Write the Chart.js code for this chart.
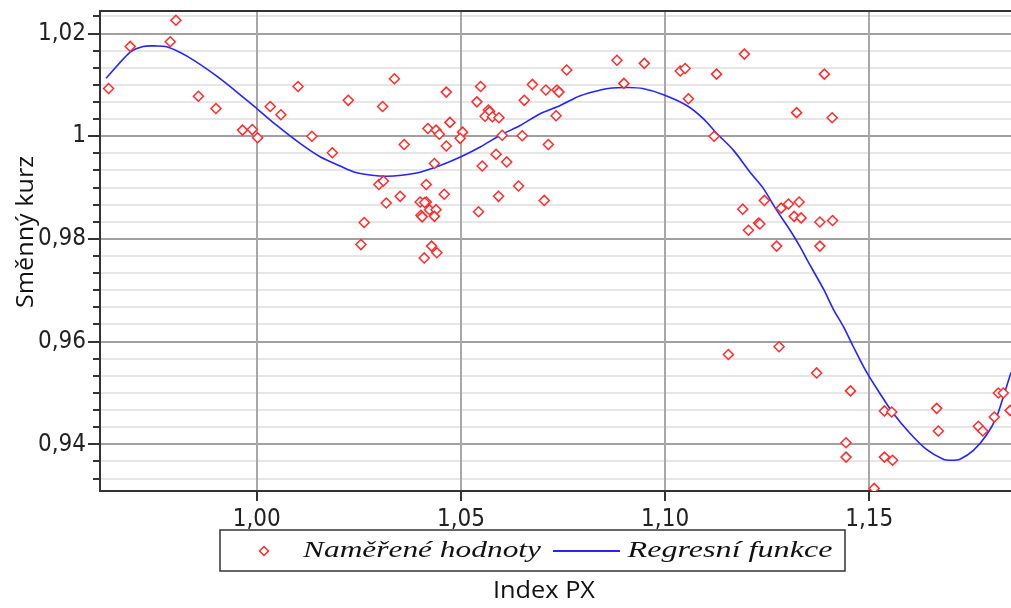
<!DOCTYPE html>
<html>
<head>
<meta charset="utf-8">
<script src="https://cdn.jsdelivr.net/npm/chart.js@4.4.1/dist/chart.umd.min.js"></script>
<style>
  html, body { margin: 0; padding: 0; background: #fff; }
  canvas { display: block; }
</style>
</head>
<body>
<canvas id="rateChart" width="1011" height="608"></canvas>
<script>
// Values
const measuredX = [
  0.9637, 0.9690, 0.9788, 0.9802, 0.9857, 0.9900, 0.9965, 0.9989, 1.0002, 1.0033,
  1.0059, 1.0101, 1.0135, 1.0185, 1.0224, 1.0255, 1.0263, 1.0308, 1.0337, 1.0299,
  1.0310, 1.0317, 1.0351, 1.0361, 1.0400, 1.0415, 1.0411, 1.0402, 1.0405, 1.0423,
  1.0439, 1.0435, 1.0415, 1.0459, 1.0435, 1.0419, 1.0439, 1.0447, 1.0473, 1.0464,
  1.0464, 1.0504, 1.0498, 1.0428, 1.0441, 1.0410, 1.0552, 1.0543, 1.0548, 1.0539,
  1.0567, 1.0570, 1.0559, 1.0577, 1.0593, 1.0601, 1.0650, 1.0586, 1.0612, 1.0641,
  1.0592, 1.0704, 1.0714, 1.0655, 1.0675, 1.0708, 1.0735, 1.0740, 1.0733, 1.0759,
  1.0882, 1.0949, 1.0899, 1.1037, 1.1049, 1.1057, 1.1126, 1.1194, 1.1120, 1.1322,
  1.1390, 1.1409, 1.1243, 1.1190, 1.1284, 1.1302, 1.1328, 1.1316, 1.1333, 1.1379,
  1.1410, 1.1229, 1.1232, 1.1204, 1.1273, 1.1379, 1.1155, 1.1279, 1.1371, 1.1454,
  1.1537, 1.1555, 1.1665, 1.1669, 1.1767, 1.1778, 1.1806, 1.1816, 1.1828, 1.1845,
  1.1443, 1.1443, 1.1537, 1.1557, 1.1512
];
const measuredY = [
  1.0093, 1.0175, 1.0184, 1.0226, 1.0078, 1.0054, 1.0012, 1.0013, 0.9997, 1.0058,
  1.0042, 1.0097, 1.0000, 0.9968, 1.0070, 0.9789, 0.9832, 1.0058, 1.0112, 0.9906,
  0.9913, 0.9870, 0.9883, 0.9984, 0.9872, 0.9872, 0.9871, 0.9846, 0.9843, 0.9857,
  0.9857, 0.9844, 0.9906, 0.9887, 0.9947, 1.0015, 1.0012, 1.0004, 1.0027, 1.0086,
  0.9981, 1.0008, 0.9996, 0.9786, 0.9773, 0.9763, 0.9942, 0.9853, 1.0097, 1.0067,
  1.0051, 1.0048, 1.0039, 1.0038, 1.0036, 1.0002, 1.0001, 0.9965, 0.9950, 0.9903,
  0.9883, 0.9875, 0.9984, 1.0070, 1.0101, 1.0090, 1.0090, 1.0086, 1.0040, 1.0129,
  1.0148, 1.0142, 1.0103, 1.0127, 1.0132, 1.0073, 1.0121, 1.0160, 1.0000, 1.0046,
  1.0121, 1.0036, 0.9875, 0.9858, 0.9860, 0.9868, 0.9872, 0.9844, 0.9841, 0.9833,
  0.9836, 0.9831, 0.9829, 0.9817, 0.9786, 0.9786, 0.9575, 0.9590, 0.9539, 0.9504,
  0.9465, 0.9463, 0.9470, 0.9426, 0.9435, 0.9426, 0.9453, 0.9500, 0.9500, 0.9466,
  0.9403, 0.9375, 0.9375, 0.9369, 0.9314
];

const regressionX = [
  0.9631, 0.9690, 0.9722, 0.9751, 0.9781, 0.9829, 0.9902, 0.9976, 1.0000, 1.0049,
  1.0106, 1.0155, 1.0204, 1.0240, 1.0282, 1.0317, 1.0355, 1.0400, 1.0449, 1.0500,
  1.0547, 1.0596, 1.0645, 1.0694, 1.0743, 1.0792, 1.0841, 1.0870, 1.0906, 1.0945,
  1.0996, 1.1053, 1.1094, 1.1126, 1.1167, 1.1208, 1.1240, 1.1273, 1.1306, 1.1331,
  1.1347, 1.1388, 1.1412, 1.1436, 1.1461, 1.1493, 1.1526, 1.1559, 1.1600, 1.1640,
  1.1681, 1.1702, 1.1722, 1.1755, 1.1787, 1.1812, 1.1828, 1.1847
];
const regressionY = [
  1.0113, 1.0164, 1.0175, 1.0176, 1.0174, 1.0156, 1.0117, 1.0070, 1.0054, 1.0021,
  0.9986, 0.9960, 0.9942, 0.9930, 0.9924, 0.9922, 0.9924, 0.9930, 0.9943, 0.9960,
  0.9979, 1.0002, 1.0021, 1.0044, 1.0060, 1.0079, 1.0090, 1.0094, 1.0095, 1.0093,
  1.0081, 1.0060, 1.0034, 1.0006, 0.9973, 0.9930, 0.9899, 0.9856, 0.9817, 0.9784,
  0.9760, 0.9702, 0.9663, 0.9630, 0.9590, 0.9541, 0.9499, 0.9460, 0.9421, 0.9390,
  0.9371, 0.9369, 0.9371, 0.9388, 0.9418, 0.9454, 0.9492, 0.9540
];

const seriesNames = ['Naměřené hodnoty', 'Regresní funkce'];
const xTitle = 'Index PX';
const yTitle = 'Směnný kurz';

const xTickValues = [1.00, 1.05, 1.10, 1.15];
const xTickLabels = ['1,00', '1,05', '1,10', '1,15'];
const yTickValues = [0.94, 0.96, 0.98, 1.00, 1.02];
const yTickLabels = ['0,94', '0,96', '0,98', '1', '1,02'];
const xRange = [0.9616, 1.1847];
const yRange = [0.9309, 1.0244];
const yMinorSteps = 6;

const RED = '#ff2b2b';
const BLUE = '#2424ff';
const AXIS = '#333333';
const TICK_FONT = "'Liberation Sans Narrow', 'DejaVu Sans Condensed', sans-serif";

// minor horizontal grid every 1/6 of a major step
const yStep = (yTickValues[1] - yTickValues[0]) / yMinorSteps;
const yGridValues = [];
for (let k = Math.ceil(yRange[0] / yStep - 1e-9); k * yStep <= yRange[1] + 1e-9; k++) {
  yGridValues.push(k * yStep);
}

function findIndex(list, v) {
  return list.findIndex(t => Math.abs(t - v) < 1e-6);
}

function drawDiamond(ctx, x, y, r) {
  ctx.beginPath();
  ctx.moveTo(x - r, y);
  ctx.lineTo(x, y - r);
  ctx.lineTo(x + r, y);
  ctx.lineTo(x, y + r);
  ctx.closePath();
  ctx.fillStyle = '#fff';
  ctx.fill();
  ctx.strokeStyle = RED;
  ctx.lineWidth = 1.5;
  ctx.stroke();
}

// draws text centred on (cx, cy), stretched to a given width
function fitText(ctx, text, cx, cy, width, font, angle) {
  ctx.save();
  ctx.font = font;
  const w = ctx.measureText(text).width;
  ctx.translate(cx, cy);
  if (angle) ctx.rotate(angle);
  ctx.scale(width / w, 1);
  ctx.textAlign = 'center';
  ctx.textBaseline = 'middle';
  ctx.fillStyle = '#111';
  ctx.fillText(text, 0, 0);
  ctx.restore();
}

// chart.js keeps a few px of padding around scales; drop it so the plot runs to the edge
function noPadding(s) {
  s.paddingLeft = 0;
  s.paddingRight = 0;
  s.paddingTop = 0;
  s.paddingBottom = 0;
}

const framePlugin = {
  id: 'frame',
  afterDraw(chart) {
    const { ctx, chartArea: a, scales } = chart;
    ctx.save();
    ctx.strokeStyle = AXIS;
    ctx.lineWidth = 2;

    // top border line
    ctx.beginPath();
    ctx.moveTo(a.left - 1, a.top);
    ctx.lineTo(a.right, a.top);
    ctx.stroke();

    // y tick marks: long for major, short for minor
    scales.y.ticks.forEach(t => {
      const y = Math.round(scales.y.getPixelForValue(t.value));
      const len = findIndex(yTickValues, t.value) >= 0 ? 12 : 7;
      ctx.beginPath();
      ctx.moveTo(a.left - len, y);
      ctx.lineTo(a.left, y);
      ctx.stroke();
    });

    // legend box
    ctx.lineWidth = 1.5;
    ctx.strokeStyle = AXIS;
    ctx.strokeRect(220, 530, 625, 41);
    drawDiamond(ctx, 264, 551, 4.5);
    ctx.strokeStyle = BLUE;
    ctx.lineWidth = 2;
    ctx.beginPath();
    ctx.moveTo(553, 551);
    ctx.lineTo(620, 551);
    ctx.stroke();
    ctx.restore();

    fitText(ctx, seriesNames[0], 422, 551, 238, "italic 24px 'Liberation Serif'");
    fitText(ctx, seriesNames[1], 730, 551, 205, "italic 24px 'Liberation Serif'");

    // axis titles
    fitText(ctx, xTitle, 544, 591, 102, "24px 'Open Sans'");
    fitText(ctx, yTitle, 26, 232, 152, "24px 'Open Sans'", -Math.PI / 2);
  }
};

new Chart(document.getElementById('rateChart'), {
  type: 'scatter',
  data: {
    datasets: [
      {
        label: seriesNames[0],
        data: measuredX.map((x, i) => ({ x: x, y: measuredY[i] })),
        pointStyle: 'rectRot',
        pointRadius: 5,
        pointHoverRadius: 5,
        borderColor: RED,
        backgroundColor: '#fff',
        borderWidth: 1.5,
        clip: 0
      },
      {
        label: seriesNames[1],
        data: regressionX.map((x, i) => ({ x: x, y: regressionY[i] })),
        showLine: true,
        pointRadius: 0,
        borderColor: BLUE,
        backgroundColor: BLUE,
        borderWidth: 1.6,
        tension: 0.3,
        clip: 0
      }
    ]
  },
  options: {
    responsive: false,
    animation: false,
    devicePixelRatio: 1,
    layout: { autoPadding: false, padding: { top: 11, left: 0, right: 0, bottom: 0 } },
    plugins: {
      legend: { display: false },
      tooltip: { enabled: false }
    },
    scales: {
      x: {
        type: 'linear',
        min: xRange[0],
        max: xRange[1],
        afterBuildTicks: s => { s.ticks = xTickValues.map(v => ({ value: v })); },
        afterFit: s => { s.height = 117; noPadding(s); },
        grid: {
          color: '#a8a8a8',
          lineWidth: 2,
          drawTicks: true,
          tickLength: 10,
          tickColor: AXIS,
          tickWidth: 2,
          z: -1
        },
        border: { color: AXIS, width: 2 },
        ticks: {
          padding: 4,
          color: '#222',
          autoSkip: false,
          maxRotation: 0,
          font: { family: TICK_FONT, size: 24 },
          callback: v => xTickLabels[findIndex(xTickValues, v)] || ''
        }
      },
      y: {
        type: 'linear',
        min: yRange[0],
        max: yRange[1],
        afterBuildTicks: s => { s.ticks = yGridValues.map(v => ({ value: v })); },
        afterFit: s => { s.width = 100; noPadding(s); },
        grid: {
          color: c => findIndex(yTickValues, c.tick.value) >= 0 ? '#a0a0a0' : '#e6e6e6',
          lineWidth: 2,
          drawTicks: false,
          z: -2
        },
        border: { color: AXIS, width: 2 },
        ticks: {
          padding: 14,
          color: '#222',
          autoSkip: false,
          font: { family: TICK_FONT, size: 24 },
          callback: v => yTickLabels[findIndex(yTickValues, v)] || ''
        }
      }
    }
  },
  plugins: [framePlugin]
});
</script>
</body>
</html>
